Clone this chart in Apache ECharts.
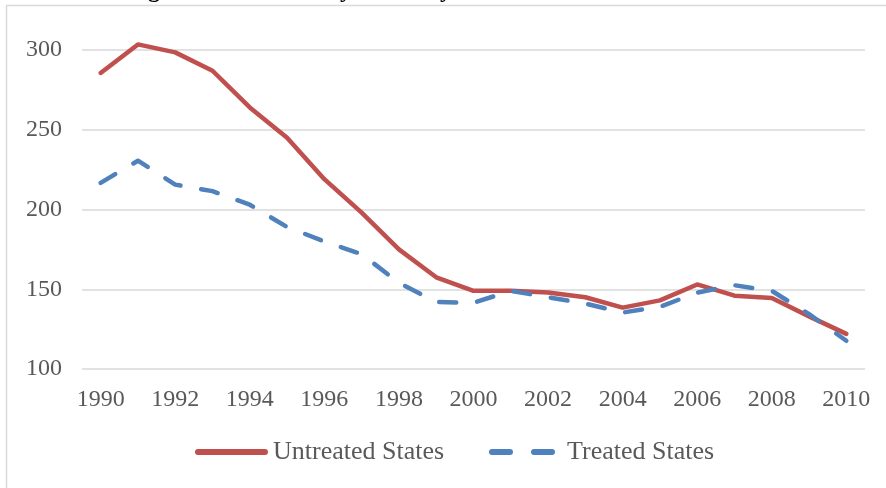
<!DOCTYPE html>
<html>
<head>
<meta charset="utf-8">
<script src="https://cdn.jsdelivr.net/npm/echarts@6/dist/echarts.min.js"></script>
<style>
html,body{margin:0;padding:0;background:#fff;}
#c{width:886px;height:488px;}
</style>
</head>
<body>
<div id="c"></div>
<script>
var years = ['1990','1991','1992','1993','1994','1995','1996','1997','1998','1999','2000','2001','2002','2003','2004','2005','2006','2007','2008','2009','2010'];
var untreated = [285.6,303.5,298.5,287,264,245,219,198,175,157.5,149,149,148,145,138.5,143,153,146,144.5,133,122];
var treated = [216.7,230.6,215.6,211.5,203,189,180,172,154,142,141.5,149,145,141,135.4,139,147.9,152.5,149,134.4,117.7];
var yTicks = [100,150,200,250,300];

var chart = echarts.init(document.getElementById('c'), null, {renderer:'canvas'});
var font = '"Liberation Serif", "Times New Roman", serif';
var redIcon = 'path://M3,0 h67 a3,3 0 0 1 0,6 h-67 a3,3 0 0 1 0,-6 z';
var blueIcon = 'path://M3,0 h18 a3,3 0 0 1 0,6 h-18 a3,3 0 0 1 0,-6 z M45,0 h18 a3,3 0 0 1 0,6 h-18 a3,3 0 0 1 0,-6 z';
chart.setOption({
  animation:false,
  backgroundColor:'#fff',
  graphic:[
    {type:'rect', shape:{x:6.5,y:5.5,width:900,height:500}, style:{fill:'none',stroke:'#D9D9D9',lineWidth:1.5}, silent:true, z:10},
    {type:'text', left:148, top:-21, z:1, style:{text:'g', font:'bold 24px ' + font, fill:'#000'}},
    {type:'text', left:340, top:-21, z:1, style:{text:'y', font:'bold 24px ' + font, fill:'#000'}},
    {type:'text', left:440, top:-21, z:1, style:{text:'y', font:'bold 24px ' + font, fill:'#000'}}
  ],
  grid:{left:82,right:21,top:50,bottom:119,containLabel:false},
  legend:[
    {
      left:195, top:439, padding:0,
      itemWidth:73, itemHeight:6,
      textStyle:{fontFamily:font,fontSize:26,color:'#595959'},
      data:[{name:'Untreated States', icon:redIcon, itemStyle:{color:'#C0504D'}}]
    },
    {
      left:489, top:439, padding:0,
      itemWidth:66, itemHeight:6,
      textStyle:{fontFamily:font,fontSize:26,color:'#595959', padding:[0,0,0,7]},
      data:[{name:'Treated States', icon:blueIcon, itemStyle:{color:'#4F81BD'}}]
    }
  ],
  xAxis:{
    type:'category', data:years, boundaryGap:true,
    axisLine:{show:false}, axisTick:{show:false},
    axisLabel:{interval:1, fontFamily:font, fontSize:24, color:'#595959', margin:19}
  },
  yAxis:{
    type:'value', min:100, max:300, interval:50,
    axisLine:{show:false}, axisTick:{show:false},
    splitLine:{lineStyle:{color:'#D9D9D9',width:1.5}},
    axisLabel:{fontFamily:font, fontSize:24, color:'#595959', margin:20,
      formatter:function(v){return yTicks.indexOf(v)>=0 ? String(v) : '';}}
  },
  series:[
    {name:'Untreated States', type:'line', data:untreated, symbol:'none', smooth:false, clip:false,
     itemStyle:{color:'#C0504D'},
     lineStyle:{color:'#C0504D', width:4.5, cap:'round', join:'round'}},
    {name:'Treated States', type:'line', data:treated, symbol:'none', smooth:false, clip:false,
     itemStyle:{color:'#4F81BD'},
     lineStyle:{color:'#4F81BD', width:4.5, type:[17,21], cap:'round', join:'round'}}
  ]
});
</script>
</body>
</html>
